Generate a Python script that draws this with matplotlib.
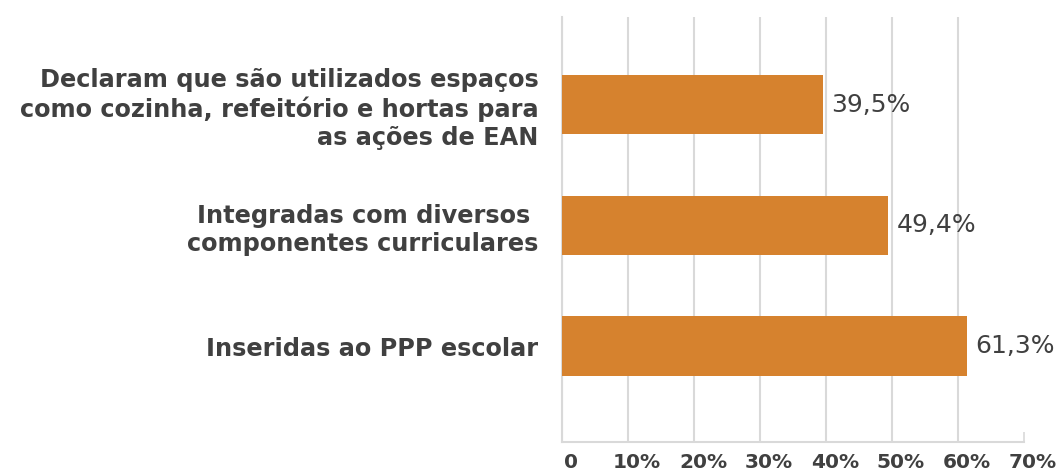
import matplotlib
matplotlib.use('Agg')
import matplotlib.pyplot as plt
from matplotlib.transforms import ScaledTranslation

# Dados do gráfico
categorias = ['Declaram que são utilizados espaços\ncomo cozinha, refeitório e hortas para\nas ações de EAN',
              'Integradas com diversos \ncomponentes curriculares',
              'Inseridas ao PPP escolar']
valores = [39.5, 49.4, 61.3]
rotulos_valores = ['39,5%', '49,4%', '61,3%']
ticks_x = [0, 10, 20, 30, 40, 50, 60, 70]
rotulos_x = ['0', '10%', '20%', '30%', '40%', '50%', '60%', '70%']

cor_barra = '#D6822E'
cor_texto = '#404040'
cor_grade = '#D9D9D9'
fonte = 'DejaVu Sans'

fig = plt.figure(figsize=(10.64, 4.75), dpi=100)
ax = fig.add_axes([562 / 1064, 1 - 442 / 475, 462 / 1064, 425 / 475])

# posições de cima para baixo
pos = [2, 1, 0]
ax.barh(pos, valores, height=0.49, color=cor_barra, zorder=3)

for p, v, r in zip(pos, valores, rotulos_valores):
    ax.annotate(r, xy=(v, p), xytext=(6, 0), textcoords='offset points',
                ha='left', va='center', fontsize=18, color=cor_texto,
                family=fonte)

ax.set_yticks(pos)
ax.set_yticklabels(categorias, fontsize=17.3, fontweight='bold', color=cor_texto,
                   family=fonte, linespacing=1.22)
ax.tick_params(axis='y', length=0, pad=17)

ax.set_xlim(0, 70)
ax.set_ylim(-0.795, 2.725)
ax.set_xticks(ticks_x)
ax.set_xticklabels(rotulos_x, fontsize=14.5, fontweight='bold', color=cor_texto,
                   family=fonte)
ax.tick_params(axis='x', direction='in', length=7.5, width=1.2, color=cor_grade, pad=8)
for lab in ax.get_xticklabels():
    lab.set_transform(lab.get_transform() + ScaledTranslation(0.09, 0, fig.dpi_scale_trans))

ax.grid(axis='x', color=cor_grade, linewidth=1.5, zorder=0)
ax.xaxis.get_gridlines()[-1].set_visible(False)
ax.set_axisbelow(True)

for lado in ['top', 'right']:
    ax.spines[lado].set_visible(False)
for lado in ['left', 'bottom']:
    ax.spines[lado].set_color(cor_grade)
    ax.spines[lado].set_linewidth(1.5)

plt.savefig('out.png', dpi=100)
